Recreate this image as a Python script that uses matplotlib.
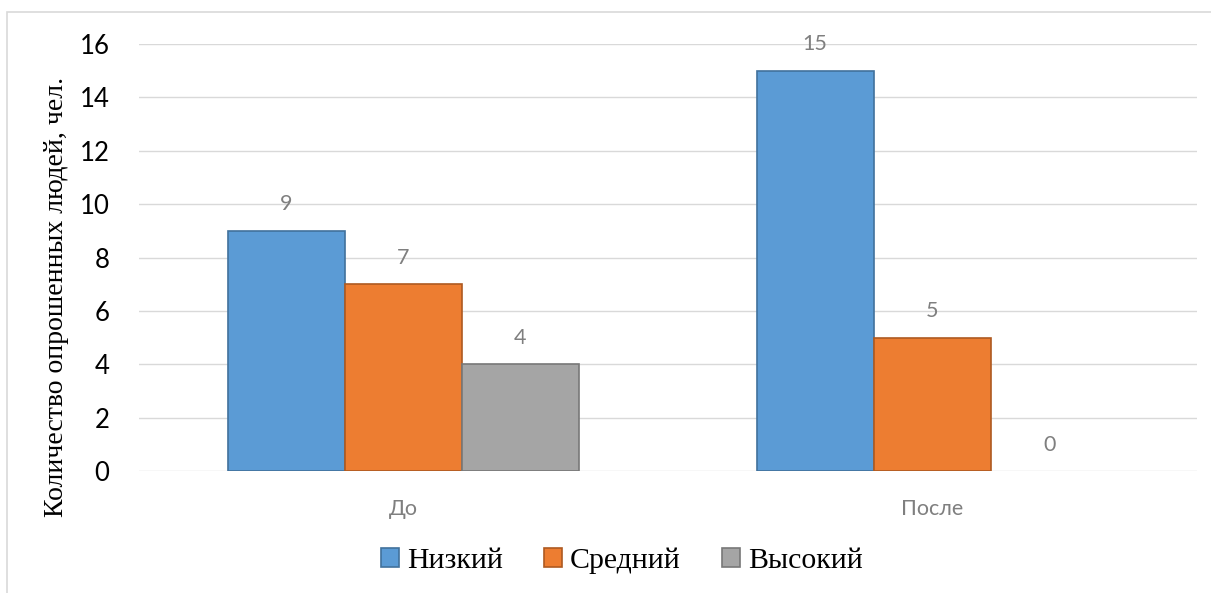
import matplotlib.pyplot as plt
from matplotlib.patches import Rectangle
import numpy as np

# Survey counts before and after, split by level
groups = ['До', 'После']
levels = ['Низкий', 'Средний', 'Высокий']
low = [9, 15]
mid = [7, 5]
high = [4, 0]

face_colours = ['#5B9BD5', '#ED7D31', '#A5A5A5']
edge_colours = ['#41719C', '#AE5A21', '#787878']

fig = plt.figure(figsize=(12.11, 5.93), dpi=100)
ax = fig.add_axes([0.1145, 0.2057, 0.8739, 0.7201])

# Light frame around the whole chart
fig.patches.append(Rectangle((7 / 1211, -0.05), 1.1, 1 - 12 / 593 + 0.05,
                             transform=fig.transFigure, fill=False,
                             edgecolor='#d9d9d9', linewidth=1.2))

x = np.arange(len(groups))
width = 0.2214
series = [low, mid, high]

for i, values in enumerate(series):
    pos = x + (i - 1) * width
    bars = ax.bar(pos, values, width, color=face_colours[i],
                  edgecolor=edge_colours[i], linewidth=1.2,
                  label=levels[i], zorder=3)
    for bar, v in zip(bars, values):
        if v == 0:
            bar.set_linewidth(0)
        ax.annotate(str(v), (bar.get_x() + bar.get_width() / 2, v),
                    xytext=(0, 19), textcoords='offset points',
                    ha='center', va='center', fontsize=15.5,
                    color='#7f7f7f', family='Lato')

ax.set_xlim(-0.5, 1.5)
ax.set_ylim(0, 16)
ax.set_yticks(range(0, 17, 2))
ax.set_xticks(x)
ax.set_xticklabels(groups, fontsize=15.5, color='#7f7f7f', family='Lato')
ax.tick_params(axis='x', length=0, pad=20)
ax.tick_params(axis='y', length=0, pad=21, labelsize=18.5)
for lbl in ax.get_yticklabels():
    lbl.set_family('Lato')

ax.grid(axis='y', color='#d9d9d9', linewidth=1, zorder=0)
for s in ax.spines.values():
    s.set_visible(False)

fig.text(57 / 1211, 1 - 297 / 593, 'Количество опрошенных людей, чел.',
         rotation=90, ha='center', va='center', fontsize=20,
         family='Liberation Serif')

fig.legend(loc='center', bbox_to_anchor=(622 / 1211, 1 - 561 / 593), ncol=3,
           frameon=False, prop={'family': 'Liberation Serif', 'size': 21.5},
           handlelength=0.6, handleheight=0.6, handletextpad=0.25,
           columnspacing=1.4)

fig.savefig('out.png', dpi=100)
